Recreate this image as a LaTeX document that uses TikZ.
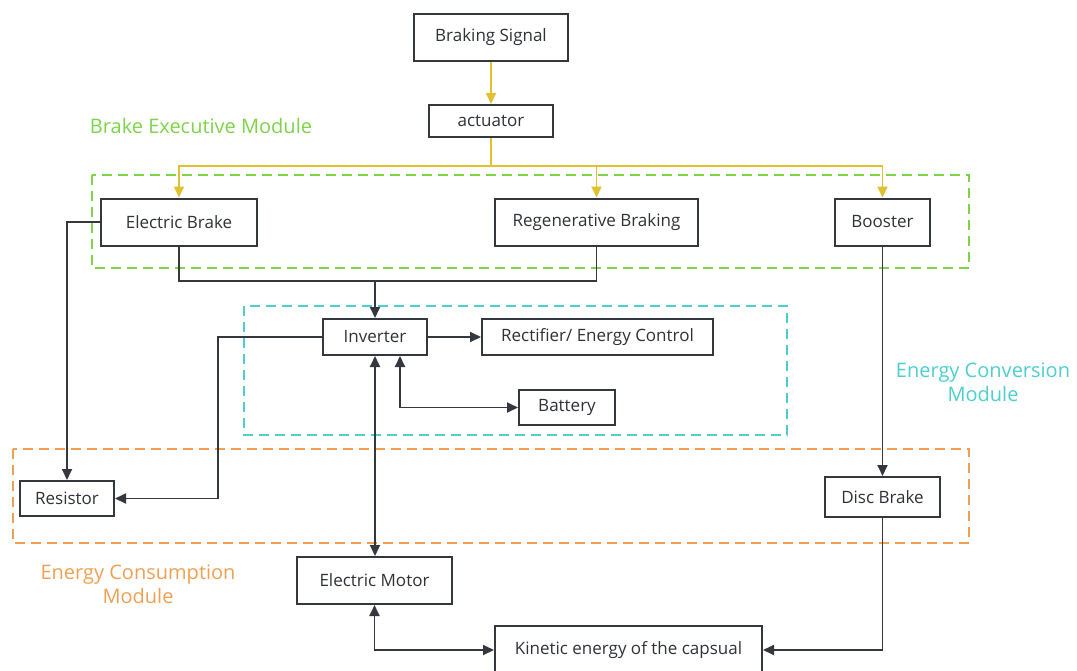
\documentclass[tikz,border=0pt]{standalone}
\usepackage{fontspec}
\setmainfont{Open Sans}
\usetikzlibrary{arrows.meta,positioning,calc}

\definecolor{boxline}{RGB}{52,56,62}
\definecolor{sigyellow}{RGB}{226,193,48}
\definecolor{zonegreen}{RGB}{125,212,72}
\definecolor{zonecyan}{RGB}{78,206,206}
\definecolor{zoneorange}{RGB}{240,160,82}

\begin{document}
\begin{tikzpicture}[
  x=0.5pt, y=-0.5pt,
  font=\fontsize{8.5}{10}\selectfont,
  >={Triangle[length=5.5pt,width=5pt]},
  box/.style={draw=boxline, line width=1pt, align=center, inner sep=0pt, fill=white, text=boxline!90!black},
  sig/.style={draw=sigyellow, line width=0.9pt},
  flow/.style={draw=boxline, line width=0.9pt},
  zone/.style={line width=0.8pt, dash pattern=on 5pt off 3pt},
  zonelabel/.style={font=\fontsize{10}{12}\selectfont, align=center}
]
\useasboundingbox (0,0) rectangle (1077,670);

% module frames
\draw[zone, draw=zonegreen] (92,175) rectangle (969,268);
\draw[zone, draw=zonecyan] (244,306) rectangle (787,435);
\draw[zone, draw=zoneorange] (13,449) rectangle (969,543);

\node[zonelabel, text=zonegreen] (execlabel) at (201,126) {Brake Executive Module};
\node[zonelabel, text=zonecyan] (convlabel) at (983,382) {Energy Conversion\\Module};
\node[zonelabel, text=zoneorange] (conslabel) at (138,584) {Energy Consumption\\Module};

% blocks
\node[box, minimum width=77pt, minimum height=23.5pt] (signal) at (491,37) {Braking Signal};
\node[box, minimum width=62pt, minimum height=16pt] (actuator) at (491,121) {actuator};
\node[box, minimum width=78pt, minimum height=23.5pt] (ebrake) at (179,222) {Electric Brake};
\node[box, minimum width=101.5pt, minimum height=23.5pt] (regen) at (596.5,222) {Regenerative Braking};
\node[box, minimum width=47.5pt, minimum height=23.5pt] (booster) at (882.5,222) {Booster};
\node[box, minimum width=52pt, minimum height=18pt] (inverter) at (375,337) {Inverter};
\node[box, minimum width=115.5pt, minimum height=18pt] (rectifier) at (597.5,337) {Rectifier/ Energy Control};
\node[box, minimum width=48pt, minimum height=17.5pt] (battery) at (567,407.5) {Battery};
\node[box, minimum width=47pt, minimum height=17.5pt] (resistor) at (67,498.5) {Resistor};
\node[box, minimum width=57.5pt, minimum height=20pt] (disc) at (882.5,497) {Disc Brake};
\node[box, minimum width=77.5pt, minimum height=23.5pt] (motor) at (374.5,580.5) {Electric Motor};
\node[box, minimum width=133.5pt, minimum height=24pt] (kinetic) at (628.5,650) {Kinetic energy of the capsual};

% braking command
\coordinate (split) at (491,166);
\draw[sig, ->] (signal) -- (actuator);
\draw[sig] (actuator) -- (split);
\draw[sig, ->] (split) -| (ebrake);
\draw[sig, ->] (split) -| (regen);
\draw[sig, ->] (split) -| (booster);

% energy paths
\coordinate (merge) at (375,281);
\coordinate (invbend) at (218,337);
\draw[flow] (ebrake) |- (merge);
\draw[flow] (regen) |- (merge);
\draw[flow, ->] (merge) -- (inverter);
\draw[flow, ->] (ebrake.west) -| (resistor);
\draw[flow, ->] (inverter.west) -- (invbend) |- (resistor);
\draw[flow, ->] (inverter) -- (rectifier);
\draw[flow, <->] ([xshift=12.5pt]inverter.south) |- (battery);
\draw[flow, <->] (inverter.south) -- (inverter.south |- motor.north);
\draw[flow, <->] (motor) |- (kinetic);
\draw[flow, ->] (booster) -- (disc);
\draw[flow, ->] (disc) |- (kinetic);

\end{tikzpicture}
\end{document}
